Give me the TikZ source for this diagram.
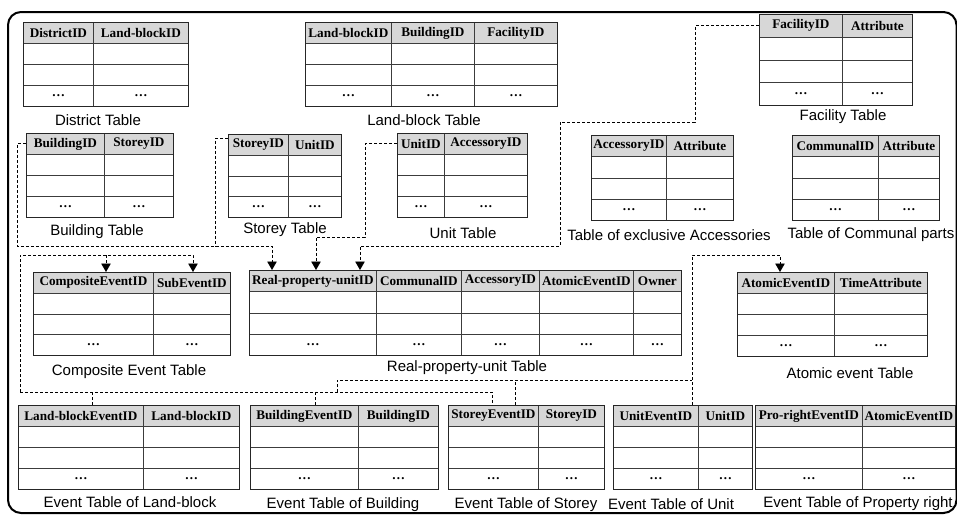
\documentclass[tikz,border=0pt]{standalone}
\usepackage{fontspec}
\setmainfont{Liberation Serif}
\newfontfamily\capfont{Liberation Sans}
\usetikzlibrary{arrows.meta}

\definecolor{hdrgray}{HTML}{D7D7D7}
\definecolor{gridcol}{HTML}{3C3C3C}

\tikzset{
  cellfont/.style={font=\fontsize{13.2}{15}\selectfont\bfseries},
  hdrcell/.style={draw=gridcol, fill=hdrgray, line width=0.8pt, inner sep=0pt, cellfont},
  datacell/.style={draw=gridcol, line width=0.8pt, inner sep=0pt, cellfont},
  tabframe/.style={draw=black!85, line width=1.1pt, inner sep=0pt},
  tabcap/.style={font=\capfont\fontsize{15}{17}\selectfont, inner sep=0pt},
  link/.style={draw=black, line width=0.9pt, dash pattern=on 3pt off 2pt},
  linkarrow/.style={link, -{Triangle[width=9.5pt,length=8.5pt]}},
  outerframe/.style={draw=black, line width=2pt, rounded corners=13pt},
}

% \dbtable{name}{left}{top}{bottom}{right-edge/header, ...}
% header row + two empty rows + a row of ellipses
\newcommand\dbtable[5]{%
  \pgfmathsetmacro\rowh{(#4-#3)/4}%
  \foreach \rx/\lab [count=\i, remember=\rx as \lx (initially #2)] in {#5}{%
    \pgfmathsetmacro\cw{\rx-\lx}%
    \node[hdrcell, minimum width=\cw pt, minimum height=\rowh pt, anchor=north west]
      (#1-h\i) at (\lx,#3) {\lab};
    \node[datacell, minimum width=\cw pt, minimum height=\rowh pt, anchor=north west]
      (#1-a\i) at (\lx,#3+\rowh) {};
    \node[datacell, minimum width=\cw pt, minimum height=\rowh pt, anchor=north west]
      (#1-b\i) at (\lx,#3+2*\rowh) {};
    \node[datacell, minimum width=\cw pt, minimum height=\rowh pt, anchor=north west]
      (#1-c\i) at (\lx,#3+3*\rowh) {…};
    \xdef\tabright{\rx}%
  }%
  \pgfmathsetmacro\tw{\tabright-#2}%
  \node[tabframe, minimum width=\tw pt, minimum height={#4-#3}, anchor=north west]
    (#1) at (#2,#3) {};
}

\begin{document}
\begin{tikzpicture}[x=1pt, y=-1pt]
\useasboundingbox (0,0) rectangle (957,514);

% outer frame
\draw[outerframe] (8,12) rectangle (956.5,513);

% tables
\dbtable{dist}{23}{22}{106}{93/DistrictID,188/Land-blockID}
\dbtable{lb}{305}{22}{106}{391/Land-blockID,474/BuildingID,557/FacilityID}
\dbtable{fac}{759}{14}{105}{842/FacilityID,912/Attribute}
\dbtable{bld}{26}{133}{217}{104/BuildingID,173/StoreyID}
\dbtable{sty}{228}{134}{217}{288/StoreyID,341/UnitID}
\dbtable{unit}{397}{133}{217}{444/UnitID,527/AccessoryID}
\dbtable{acc}{591}{135}{220}{666/AccessoryID,733/Attribute}
\dbtable{com}{792}{135}{220}{878/CommunalID,939/Attribute}
\dbtable{cmp}{33}{272}{355}{153/CompositeEventID,230/SubEventID}
\dbtable{rpu}{249}{270}{355}{376/Real-property-unitID,461/CommunalID,539/AccessoryID,633/AtomicEventID,681/Owner}
\dbtable{atm}{737}{272}{356}{834/AtomicEventID,927/TimeAttribute}
\dbtable{lbe}{18}{405}{489}{143/Land-blockEventID,239/Land-blockID}
\dbtable{bde}{250}{405}{489}{358/BuildingEventID,438/BuildingID}
\dbtable{ste}{448}{405}{489}{538/StoreyEventID,604/StoreyID}
\dbtable{une}{613}{405}{489}{698/UnitEventID,752/UnitID}
\dbtable{pre}{755}{405}{489}{862/Pro-rightEventID,955/AtomicEventID}

% captions
\node[tabcap] (dist-cap) at (98,120) {District Table};
\node[tabcap] (lb-cap)   at (424,120) {Land-block Table};
\node[tabcap] (fac-cap)  at (843,117) {Facility Table};
\node[tabcap] (bld-cap)  at (97,232) {Building Table};
\node[tabcap] (sty-cap)  at (285,230) {Storey Table};
\node[tabcap] (unit-cap) at (463,233) {Unit Table};
\node[tabcap] (acc-cap)  at (669,235) {Table of exclusive Accessories};
\node[tabcap] (com-cap)  at (871,235) {Table of Communal parts};
\node[tabcap] (cmp-cap)  at (129,372) {Composite Event Table};
\node[tabcap] (rpu-cap)  at (467,368) {Real-property-unit Table};
\node[tabcap] (atm-cap)  at (850,373) {Atomic event Table};
\node[tabcap] (lbe-cap)  at (130,502) {Event Table of Land-block};
\node[tabcap] (bde-cap)  at (343,505) {Event Table of Building};
\node[tabcap] (ste-cap)  at (526,505) {Event Table of Storey};
\node[tabcap] (une-cap)  at (671,504) {Event Table of Unit};
\node[tabcap] (pre-cap)  at (858,504) {Event Table of Property right};

% links into the real-property-unit table
\draw[linkarrow] (fac-h1.west) -| (695,122) -| (560,246) -| ([xshift=111pt]rpu-h1.north west);
\coordinate (bldbus) at (17,246);
\coordinate (stymerge) at (215,246);
\draw[linkarrow] (bld-h1.west) -| (bldbus) -| ([xshift=23pt]rpu-h1.north west);
\draw[link] ([yshift=6pt]sty-h1.west) -| (stymerge);
\draw[linkarrow] (unit-h1.west) -| (365,237) -| ([xshift=67pt]rpu-h1.north west);

% composite events and the event tables
\coordinate (evbus) at (20,392);
\coordinate (cmpsplit) at (106,255);
\draw[linkarrow] (evbus) -- (20,255) -| ([xshift=40pt]cmp-h2.north west);
\draw[linkarrow] (cmpsplit) -- ([xshift=73pt]cmp-h1.north west);
\draw[link] (evbus) -| ([xshift=44pt]ste-h1.north west);
\coordinate (lbedrop) at ([xshift=74pt]lbe-h1.north west);
\draw[link] (lbedrop) -- (lbedrop |- evbus);
\coordinate (bdedrop) at ([xshift=65pt]bde-h1.north west);
\draw[link] (bdedrop) -- (bdedrop |- evbus);

% atomic events and the event tables
\coordinate (undrop) at ([xshift=79pt]une-h1.north west);
\coordinate (atmtop) at (692,255);
\coordinate (evbus2) at (337,380);
\coordinate (evlink) at (337,392);
\draw[linkarrow] (undrop) -- (atmtop) -| ([xshift=43pt]atm-h1.north west);
\draw[link] (evlink) |- (undrop |- evbus2);
\coordinate (stedrop) at ([xshift=67pt]ste-h1.north west);
\draw[link] (stedrop) -- (stedrop |- evbus2);
\end{tikzpicture}
\end{document}
